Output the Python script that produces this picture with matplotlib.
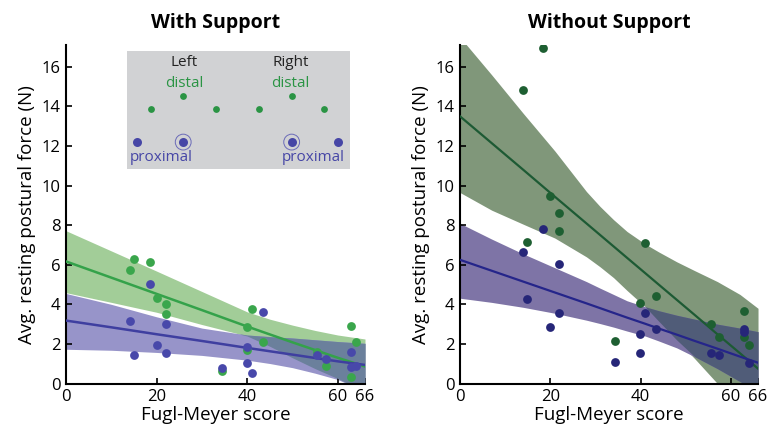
import numpy as np
import matplotlib
matplotlib.use("Agg")
import matplotlib.pyplot as plt

plt.rcParams['font.family'] = ['Open Sans', 'DejaVu Sans']

# ---- With Support (left) ----
ws_green_x = [14.1, 15.1, 18.5, 20.0, 22.0, 22.0, 41.0, 40.0, 43.4, 40.0, 34.5, 55.3, 57.5, 63.0, 64.0, 63.0]
ws_green_y = [5.73, 6.29, 6.15, 4.32, 4.03, 3.50, 3.76, 2.87, 2.12, 1.70, 0.61, 1.61, 0.91, 2.92, 2.10, 0.35]
ws_blue_x = [18.5, 14.1, 15.1, 20.0, 22.0, 22.0, 43.5, 40.0, 40.0, 41.0, 34.5, 55.5, 57.5, 63.0, 63.0, 64.0]
ws_blue_y = [5.01, 3.18, 1.45, 1.95, 2.99, 1.53, 3.60, 1.85, 1.04, 0.52, 0.77, 1.43, 1.23, 1.58, 0.82, 0.91]

ws_band_x = [0, 10, 20, 30, 40, 45, 50, 55, 60, 66]
ws_green_fit = [6.17, 5.35, 4.53, 3.71, 2.88, 2.48, 2.08, 1.69, 1.30, 0.86]
ws_green_hi = [7.72, 6.70, 5.68, 4.65, 3.62, 3.25, 2.95, 2.68, 2.45, 2.25]
ws_green_lo = [4.59, 4.10, 3.60, 2.98, 2.40, 1.88, 1.30, 0.75, 0.25, -0.50]
ws_blue_fit = [3.18, 2.84, 2.49, 2.15, 1.80, 1.63, 1.46, 1.29, 1.12, 0.94]
ws_blue_hi = [4.55, 4.00, 3.37, 2.80, 2.45, 2.37, 2.30, 2.21, 2.12, 2.03]
ws_blue_lo = [1.73, 1.68, 1.57, 1.42, 1.18, 1.01, 0.80, 0.52, 0.20, -0.40]

# ---- Without Support (right) ----
wo_green_x = [18.4, 13.9, 19.9, 21.9, 21.9, 14.9, 40.9, 43.4, 39.9, 34.4, 62.8, 55.5, 57.4, 62.8, 63.9]
wo_green_y = [16.96, 14.81, 9.48, 8.62, 7.70, 7.14, 7.09, 4.42, 4.07, 2.13, 3.66, 3.01, 2.34, 2.34, 1.93]
wo_blue_x = [18.4, 13.9, 21.9, 14.9, 21.9, 19.9, 40.9, 43.4, 39.9, 39.9, 34.4, 55.5, 57.4, 62.8, 62.8, 63.9]
wo_blue_y = [7.82, 6.64, 6.03, 4.27, 3.58, 2.86, 3.56, 2.74, 2.50, 1.55, 1.11, 1.56, 1.43, 2.76, 2.62, 1.06]

wo_band_x = [0, 7, 14, 21, 28, 31, 34, 37, 41, 44, 48, 52, 57, 62, 66]
wo_green_fit = [13.50, 12.15, 10.80, 9.44, 8.09, 7.51, 6.93, 6.35, 5.58, 5.00, 4.23, 3.46, 2.49, 1.53, 0.75]
wo_green_hi = [17.50, 15.60, 13.65, 11.75, 9.70, 8.95, 8.28, 7.68, 7.05, 6.65, 6.15, 5.70, 5.15, 4.50, 3.80]
wo_green_lo = [9.65, 8.76, 8.05, 7.35, 6.40, 5.90, 5.35, 4.70, 3.88, 3.15, 2.20, 1.25, 0.00, -1.20, -2.10]
wo_blue_fit = [6.25, 5.70, 5.15, 4.60, 4.05, 3.81, 3.57, 3.33, 3.02, 2.78, 2.47, 2.15, 1.76, 1.36, 1.05]
wo_blue_hi = [8.09, 7.30, 6.55, 5.85, 5.15, 4.82, 4.50, 4.18, 3.88, 3.68, 3.45, 3.25, 3.00, 2.80, 2.62]
wo_blue_lo = [4.31, 4.10, 3.85, 3.55, 3.20, 3.03, 2.85, 2.65, 2.40, 2.15, 1.80, 1.35, 0.75, 0.10, -0.40]

x_ticks = [0, 20, 40, 60, 66]
y_ticks = [0, 2, 4, 6, 8, 10, 12, 14, 16]

# legend schematic (inset coordinates, 0..1)
leg_green_x = [0.106, 0.251, 0.400, 0.593, 0.738, 0.885]
leg_green_y = [0.507, 0.622, 0.507, 0.507, 0.622, 0.507]
leg_blue_x = [0.045, 0.251, 0.738, 0.947]
leg_blue_y = [0.228, 0.228, 0.228, 0.228]
leg_ring = [1, 2]  # blue dots drawn with a ring
leg_side_x = [0.255, 0.734]
leg_prox_x = [0.154, 0.835]


def draw_panel(ax, title, bx, g_fit, g_hi, g_lo, b_fit, b_hi, b_lo,
               gx, gy, blx, bly, c):
    bx = np.asarray(bx)
    g_hi, g_lo = np.asarray(g_hi), np.asarray(g_lo)
    b_hi, b_lo = np.asarray(b_hi), np.asarray(b_lo)
    ax.fill_between(bx, g_lo, g_hi, color=c['gband'], lw=0, zorder=1)
    ax.fill_between(bx, b_lo, b_hi, color=c['bband'], lw=0, zorder=1)
    # overlap of both bands is drawn darker
    ov_hi = np.minimum(g_hi, b_hi)
    ov_lo = np.maximum(g_lo, b_lo)
    ax.fill_between(bx, ov_lo, ov_hi, where=ov_hi > ov_lo, interpolate=True,
                    color=c['over'], lw=0, zorder=2)
    ax.plot(bx, g_fit, color=c['gline'], lw=c['lw'], zorder=3)
    ax.plot(bx, b_fit, color=c['bline'], lw=c['lw'], zorder=3)
    ax.scatter(gx, gy, s=40, color=c['gpt'], lw=0, zorder=4)
    ax.scatter(blx, bly, s=40, color=c['bpt'], lw=0, zorder=4)

    ax.set_xlim(0, 66)
    ax.set_ylim(0, 17.1)
    ax.set_xticks(x_ticks)
    ax.set_yticks(y_ticks)
    ax.tick_params(direction='in', length=4, width=1.2, labelsize=12, pad=4)
    for s in ['top', 'right']:
        ax.spines[s].set_visible(False)
    for s in ['left', 'bottom']:
        ax.spines[s].set_linewidth(1.5)
    ax.set_xlabel('Fugl-Meyer score', fontsize=13.5, labelpad=1)
    ax.set_ylabel('Avg. resting postural force (N)', fontsize=13.5, labelpad=4)
    ax.set_title(title, fontsize=14, fontweight='bold', pad=12)


fig = plt.figure(figsize=(7.72, 4.38), dpi=100)
ax1 = fig.add_axes([0.0855, 0.1244, 0.3873, 0.7726])
ax2 = fig.add_axes([0.5959, 0.1244, 0.3860, 0.7726])

left_c = dict(gband='#a2cd98', bband='#9794c9', over='#6b809c',
              gline='#34a24a', bline='#3f3fa0', gpt='#3aa64c', bpt='#4848aa', lw=1.8)
right_c = dict(gband='#80977a', bband='#7e74a6', over='#505c78',
               gline='#1d5a34', bline='#25258a', gpt='#1e5f32', bpt='#262678', lw=1.6)

draw_panel(ax1, 'With Support', ws_band_x, ws_green_fit, ws_green_hi, ws_green_lo,
           ws_blue_fit, ws_blue_hi, ws_blue_lo,
           ws_green_x, ws_green_y, ws_blue_x, ws_blue_y, left_c)
draw_panel(ax2, 'Without Support', wo_band_x, wo_green_fit, wo_green_hi, wo_green_lo,
           wo_blue_fit, wo_blue_hi, wo_blue_lo,
           wo_green_x, wo_green_y, wo_blue_x, wo_blue_y, right_c)

# legend schematic inset
lax = fig.add_axes([0.1649, 0.6142, 0.2885, 0.2693])
lax.set_facecolor('#d1d2d4')
lax.set_xlim(0, 1)
lax.set_ylim(0, 1)
lax.set_xticks([])
lax.set_yticks([])
for s in lax.spines.values():
    s.set_visible(False)
lax.scatter(leg_green_x, leg_green_y, s=24, color='#2a9444', lw=0)
lax.scatter(leg_blue_x, leg_blue_y, s=42, color='#4646a6', lw=0, zorder=3)
lax.scatter([leg_blue_x[i] for i in leg_ring], [leg_blue_y[i] for i in leg_ring],
            s=130, facecolor='none', edgecolor='#6a6ab8', lw=0.7, zorder=2)
for xs, lab in zip(leg_side_x, ['Left', 'Right']):
    lax.text(xs, 0.90, lab, ha='center', va='center', fontsize=11, color='#222222')
    lax.text(xs, 0.725, 'distal', ha='center', va='center', fontsize=11, color='#2a9444')
for xp in leg_prox_x:
    lax.text(xp, 0.095, 'proximal', ha='center', va='center', fontsize=11, color='#4646a6')

fig.savefig('out.png', dpi=100)
